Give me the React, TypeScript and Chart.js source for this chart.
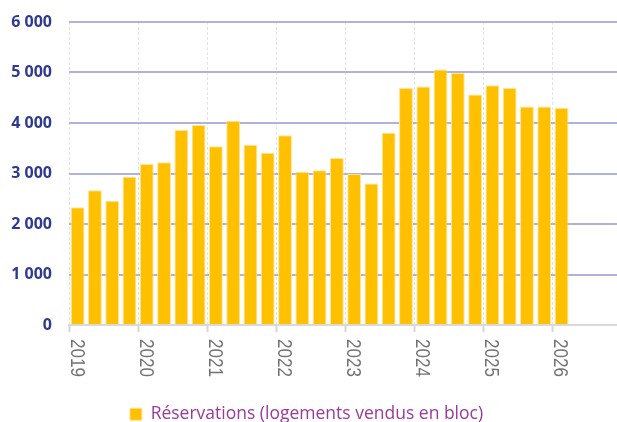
import React, { useEffect, useRef } from 'react';
import { Chart, registerables } from 'chart.js';

Chart.register(...registerables);

const years = ['2019', '2020', '2021', '2022', '2023', '2024', '2025', '2026'];
const quarters = ['T1', 'T2', 'T3', 'T4'];
const categories = years.flatMap((y) => quarters.map((q) => `${y} ${q}`));
const reservations: (number | null)[] = [
  2330, 2670, 2460, 2935,
  3190, 3225, 3860, 3960,
  3540, 4045, 3570, 3410,
  3755, 3035, 3065, 3305,
  2990, 2800, 3805, 4695,
  4725, 5060, 4990, 4565,
  4750, 4695, 4325, 4325,
  4300, null, null, null,
];
const yTicks = [0, 1000, 2000, 3000, 4000, 5000, 6000];
const seriesLabel = 'Réservations (logements vendus en bloc)';

const fmt = (v: number) => String(v).replace(/\B(?=(\d{3})+(?!\d))/g, ' ');

const yearLabelPlugin = {
  id: 'yearLabels',
  afterDraw(chart: any) {
    const xs = chart.scales.x;
    const ctx = chart.ctx;
    const step = xs.getPixelForValue(1) - xs.getPixelForValue(0);
    ctx.save();
    ctx.font = "21px 'Liberation Sans', Arial, sans-serif";
    ctx.fillStyle = '#727272';
    ctx.textAlign = 'left';
    ctx.textBaseline = 'alphabetic';
    years.forEach((yr, k) => {
      const px = xs.getPixelForValue(k * quarters.length) - step / 2;
      ctx.save();
      ctx.translate(px + 1.5, xs.top + 14);
      ctx.rotate(Math.PI / 2);
      ctx.scale(0.81, 1);
      ctx.fillText(yr, 0, 0);
      ctx.restore();
    });
    ctx.restore();
  },
};

export default function App() {
  const ref = useRef<HTMLCanvasElement>(null);
  useEffect(() => {
    if (!ref.current) return;
    const chart = new Chart(ref.current, {
      type: 'bar',
      data: {
        labels: categories,
        datasets: [
          {
            label: seriesLabel,
            data: reservations,
            backgroundColor: '#FFC000',
            borderColor: '#FFE49A',
            borderWidth: 1,
            barPercentage: 0.8,
            categoryPercentage: 1,
          },
        ],
      },
      options: {
        animation: false,
        responsive: true,
        maintainAspectRatio: false,
        layout: { padding: { left: -9, right: 18, top: 22, bottom: 0 } },
        plugins: {
          legend: {
            position: 'bottom',
            labels: {
              boxWidth: 12,
              boxHeight: 12,
              padding: 10,
              color: '#9b3a9b',
              font: { family: "'Open Sans', sans-serif", size: 17.5 },
            },
          },
          tooltip: { enabled: false },
        },
        scales: {
          x: {
            offset: true,
            grid: {
              offset: true,
              drawOnChartArea: true,
              drawTicks: true,
              tickLength: 7,
              tickWidth: 2,
              lineWidth: 1,
              color: (c: any) => (typeof c.index === 'number' && c.index % 4 === 0 ? '#e3e3e3' : 'rgba(0,0,0,0)'),
              tickColor: (c: any) => (typeof c.index === 'number' && c.index % 4 === 0 ? '#d6d6d6' : 'rgba(0,0,0,0)'),
            },
            border: { display: true, color: '#d9d9d9', width: 2, dash: [3, 2] },
            ticks: { display: false, autoSkip: false },
            afterFit: (s: any) => {
              s.height = 70.5;
            },
          },
          y: {
            min: 0,
            max: 6000,
            afterBuildTicks: (s: any) => {
              s.ticks = yTicks.map((v) => ({ value: v }));
            },
            grid: {
              drawTicks: false,
              lineWidth: 2,
              color: (c: any) => (c.tick && c.tick.value === 0 ? 'rgba(0,0,0,0)' : '#aeb3db'),
            },
            border: { display: false },
            ticks: {
              padding: 17,
              color: '#2e3a8f',
              font: { family: "'Open Sans', sans-serif", size: 16, weight: 'bold' },
              callback: (v: any) => fmt(Number(v)),
            },
            afterFit: (s: any) => {
              s.width = 78;
              s.paddingTop = 4;
              s.paddingBottom = 4;
            },
          },
        },
      },
      plugins: [yearLabelPlugin],
    });
    return () => chart.destroy();
  }, []);
  return (
    <div style={{ position: 'fixed', left: 0, top: 0, width: 617, height: 422, overflow: 'hidden', background: '#fff' }}>
      <div style={{ position: 'relative', width: 640, height: 433 }}>
        <canvas ref={ref} />
      </div>
    </div>
  );
}
